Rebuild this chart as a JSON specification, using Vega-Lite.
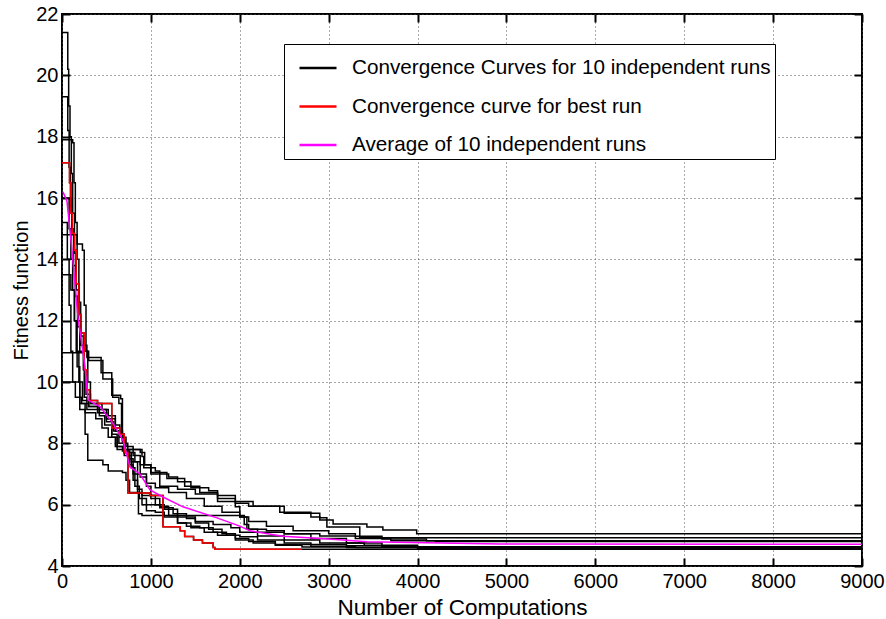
{
  "$schema": "https://vega.github.io/schema/vega-lite/v6.json",
  "width": 800,
  "height": 552,
  "autosize": {"type": "none"},
  "padding": {"left": 62, "top": 14, "right": 24, "bottom": 53},
  "background": "white",
  "config": {
    "view": {"stroke": "black", "strokeWidth": 2},
    "axis": {
      "labelFont": "Liberation Sans", "labelFontSize": 20, "labelColor": "black",
      "titleFont": "Liberation Sans", "titleFontSize": 20, "titleFontWeight": "normal", "titleColor": "black",
      "tickColor": "black", "tickWidth": 2, "tickSize": -8, "domain": false,
      "gridColor": "#555", "gridDash": [1, 3], "gridWidth": 1
    }
  },
  "datasets": {
    "runs": [
      {"run":1,"x":0,"y":21.4},{"run":1,"x":55,"y":21.4},{"run":1,"x":65,"y":20.2},{"run":1,"x":75,"y":19.0},{"run":1,"x":90,"y":18.0},{"run":1,"x":105,"y":16.8},{"run":1,"x":120,"y":15.5},{"run":1,"x":140,"y":14.2},{"run":1,"x":160,"y":13.0},{"run":1,"x":185,"y":12.0},{"run":1,"x":210,"y":11.2},{"run":1,"x":280,"y":10.8},{"run":1,"x":440,"y":10.3},{"run":1,"x":560,"y":9.57},{"run":1,"x":660,"y":9.45},{"run":1,"x":680,"y":8.1},{"run":1,"x":710,"y":7.8},{"run":1,"x":900,"y":7.57},{"run":1,"x":920,"y":7.2},{"run":1,"x":1050,"y":7.1},{"run":1,"x":1100,"y":7.0},{"run":1,"x":1200,"y":6.9},{"run":1,"x":1300,"y":6.75},{"run":1,"x":1450,"y":6.55},{"run":1,"x":1650,"y":6.45},{"run":1,"x":1750,"y":6.3},{"run":1,"x":1950,"y":6.1},{"run":1,"x":2150,"y":5.95},{"run":1,"x":2450,"y":5.75},{"run":1,"x":2800,"y":5.6},{"run":1,"x":2900,"y":5.5},{"run":1,"x":3050,"y":5.37},{"run":1,"x":3430,"y":5.27},{"run":1,"x":3610,"y":5.17},{"run":1,"x":3990,"y":5.05},{"run":1,"x":9000,"y":5.05},
      {"run":2,"x":0,"y":19.3},{"run":2,"x":50,"y":19.3},{"run":2,"x":65,"y":18.2},{"run":2,"x":80,"y":17.0},{"run":2,"x":95,"y":16.0},{"run":2,"x":110,"y":15.0},{"run":2,"x":130,"y":13.8},{"run":2,"x":150,"y":12.8},{"run":2,"x":175,"y":11.8},{"run":2,"x":200,"y":11.0},{"run":2,"x":300,"y":10.7},{"run":2,"x":460,"y":10.1},{"run":2,"x":570,"y":9.5},{"run":2,"x":640,"y":9.3},{"run":2,"x":670,"y":8.3},{"run":2,"x":700,"y":7.8},{"run":2,"x":880,"y":7.7},{"run":2,"x":930,"y":7.3},{"run":2,"x":1000,"y":7.05},{"run":2,"x":1180,"y":6.85},{"run":2,"x":1380,"y":6.6},{"run":2,"x":1550,"y":6.4},{"run":2,"x":1750,"y":6.2},{"run":2,"x":1950,"y":6.05},{"run":2,"x":2100,"y":5.95},{"run":2,"x":2500,"y":5.72},{"run":2,"x":2900,"y":5.57},{"run":2,"x":2980,"y":5.27},{"run":2,"x":3350,"y":4.92},{"run":2,"x":9000,"y":4.88},
      {"run":3,"x":0,"y":17.9},{"run":3,"x":120,"y":17.8},{"run":3,"x":135,"y":16.5},{"run":3,"x":150,"y":15.2},{"run":3,"x":170,"y":14.0},{"run":3,"x":190,"y":12.6},{"run":3,"x":210,"y":11.5},{"run":3,"x":240,"y":10.4},{"run":3,"x":270,"y":9.6},{"run":3,"x":320,"y":9.3},{"run":3,"x":450,"y":9.1},{"run":3,"x":520,"y":8.9},{"run":3,"x":600,"y":8.6},{"run":3,"x":650,"y":8.2},{"run":3,"x":720,"y":7.9},{"run":3,"x":800,"y":7.6},{"run":3,"x":880,"y":7.3},{"run":3,"x":1000,"y":7.0},{"run":3,"x":1100,"y":6.6},{"run":3,"x":1300,"y":6.5},{"run":3,"x":1500,"y":6.35},{"run":3,"x":1750,"y":6.1},{"run":3,"x":1950,"y":5.93},{"run":3,"x":2000,"y":5.6},{"run":3,"x":2080,"y":5.2},{"run":3,"x":2200,"y":5.1},{"run":3,"x":2500,"y":5.05},{"run":3,"x":2900,"y":4.98},{"run":3,"x":3300,"y":4.9},{"run":3,"x":3700,"y":4.82},{"run":3,"x":4200,"y":4.8},{"run":3,"x":9000,"y":4.78},
      {"run":4,"x":0,"y":16.0},{"run":4,"x":60,"y":16.0},{"run":4,"x":80,"y":15.0},{"run":4,"x":100,"y":14.0},{"run":4,"x":120,"y":13.0},{"run":4,"x":140,"y":12.0},{"run":4,"x":160,"y":11.0},{"run":4,"x":190,"y":10.0},{"run":4,"x":230,"y":9.4},{"run":4,"x":300,"y":9.2},{"run":4,"x":420,"y":9.0},{"run":4,"x":500,"y":8.7},{"run":4,"x":580,"y":8.4},{"run":4,"x":640,"y":8.0},{"run":4,"x":700,"y":7.7},{"run":4,"x":780,"y":7.4},{"run":4,"x":850,"y":7.0},{"run":4,"x":950,"y":6.7},{"run":4,"x":1050,"y":6.55},{"run":4,"x":1200,"y":6.4},{"run":4,"x":1400,"y":6.2},{"run":4,"x":1600,"y":5.95},{"run":4,"x":1800,"y":5.75},{"run":4,"x":2000,"y":5.6},{"run":4,"x":2100,"y":5.45},{"run":4,"x":2300,"y":5.3},{"run":4,"x":2600,"y":5.15},{"run":4,"x":3000,"y":5.05},{"run":4,"x":3300,"y":4.97},{"run":4,"x":3600,"y":4.88},{"run":4,"x":4100,"y":4.82},{"run":4,"x":9000,"y":4.8},
      {"run":5,"x":0,"y":14.8},{"run":5,"x":170,"y":14.5},{"run":5,"x":230,"y":14.3},{"run":5,"x":250,"y":12.5},{"run":5,"x":270,"y":11.0},{"run":5,"x":290,"y":10.0},{"run":5,"x":320,"y":9.3},{"run":5,"x":400,"y":9.1},{"run":5,"x":500,"y":8.8},{"run":5,"x":560,"y":8.3},{"run":5,"x":620,"y":7.9},{"run":5,"x":700,"y":7.7},{"run":5,"x":760,"y":7.3},{"run":5,"x":800,"y":6.8},{"run":5,"x":850,"y":6.4},{"run":5,"x":900,"y":6.3},{"run":5,"x":1000,"y":6.2},{"run":5,"x":1100,"y":5.95},{"run":5,"x":1200,"y":5.65},{"run":5,"x":1300,"y":5.4},{"run":5,"x":1400,"y":5.3},{"run":5,"x":1550,"y":5.25},{"run":5,"x":1700,"y":5.1},{"run":5,"x":1850,"y":5.0},{"run":5,"x":2000,"y":4.95},{"run":5,"x":2200,"y":4.85},{"run":5,"x":2500,"y":4.75},{"run":5,"x":2800,"y":4.7},{"run":5,"x":3200,"y":4.66},{"run":5,"x":3600,"y":4.63},{"run":5,"x":9000,"y":4.62},
      {"run":6,"x":0,"y":10.0},{"run":6,"x":170,"y":10.0},{"run":6,"x":200,"y":9.1},{"run":6,"x":260,"y":8.3},{"run":6,"x":290,"y":7.45},{"run":6,"x":420,"y":7.45},{"run":6,"x":460,"y":7.3},{"run":6,"x":520,"y":7.1},{"run":6,"x":680,"y":7.05},{"run":6,"x":720,"y":6.8},{"run":6,"x":760,"y":6.4},{"run":6,"x":860,"y":5.7},{"run":6,"x":900,"y":5.65},{"run":6,"x":1980,"y":5.65},{"run":6,"x":2050,"y":5.35},{"run":6,"x":2100,"y":5.2},{"run":6,"x":2300,"y":5.15},{"run":6,"x":2500,"y":5.05},{"run":6,"x":2800,"y":4.9},{"run":6,"x":3200,"y":4.75},{"run":6,"x":3600,"y":4.65},{"run":6,"x":4000,"y":4.6},{"run":6,"x":9000,"y":4.6},
      {"run":7,"x":0,"y":10.95},{"run":7,"x":236,"y":10.95},{"run":7,"x":250,"y":9.5},{"run":7,"x":280,"y":9.1},{"run":7,"x":400,"y":9.0},{"run":7,"x":500,"y":8.8},{"run":7,"x":600,"y":8.4},{"run":7,"x":680,"y":8.0},{"run":7,"x":740,"y":7.5},{"run":7,"x":800,"y":7.0},{"run":7,"x":850,"y":6.5},{"run":7,"x":900,"y":6.0},{"run":7,"x":950,"y":5.8},{"run":7,"x":1050,"y":5.75},{"run":7,"x":1150,"y":5.6},{"run":7,"x":1300,"y":5.4},{"run":7,"x":1450,"y":5.25},{"run":7,"x":1600,"y":5.1},{"run":7,"x":1750,"y":5.0},{"run":7,"x":1950,"y":4.85},{"run":7,"x":2150,"y":4.75},{"run":7,"x":2400,"y":4.68},{"run":7,"x":2700,"y":4.62},{"run":7,"x":3200,"y":4.6},{"run":7,"x":4000,"y":4.58},{"run":7,"x":9000,"y":4.58},
      {"run":8,"x":0,"y":17.15},{"run":8,"x":70,"y":17.15},{"run":8,"x":85,"y":16.5},{"run":8,"x":100,"y":15.5},{"run":8,"x":115,"y":14.85},{"run":8,"x":140,"y":14.3},{"run":8,"x":160,"y":13.2},{"run":8,"x":190,"y":12.2},{"run":8,"x":215,"y":11.6},{"run":8,"x":250,"y":10.4},{"run":8,"x":280,"y":9.75},{"run":8,"x":310,"y":9.4},{"run":8,"x":400,"y":9.3},{"run":8,"x":560,"y":8.5},{"run":8,"x":650,"y":8.3},{"run":8,"x":700,"y":7.7},{"run":8,"x":742,"y":6.38},{"run":8,"x":990,"y":6.3},{"run":8,"x":1136,"y":5.28},{"run":8,"x":1330,"y":5.15},{"run":8,"x":1380,"y":4.96},{"run":8,"x":1480,"y":4.85},{"run":8,"x":1580,"y":4.75},{"run":8,"x":1700,"y":4.6},{"run":8,"x":1720,"y":4.55},{"run":8,"x":9000,"y":4.55},
      {"run":9,"x":0,"y":13.5},{"run":9,"x":100,"y":13.0},{"run":9,"x":140,"y":12.0},{"run":9,"x":170,"y":10.5},{"run":9,"x":200,"y":9.3},{"run":9,"x":260,"y":9.0},{"run":9,"x":380,"y":8.8},{"run":9,"x":450,"y":8.5},{"run":9,"x":520,"y":8.2},{"run":9,"x":600,"y":7.9},{"run":9,"x":680,"y":7.75},{"run":9,"x":760,"y":7.7},{"run":9,"x":820,"y":7.4},{"run":9,"x":880,"y":6.9},{"run":9,"x":950,"y":6.6},{"run":9,"x":1000,"y":6.3},{"run":9,"x":1050,"y":6.0},{"run":9,"x":1150,"y":5.85},{"run":9,"x":1300,"y":5.6},{"run":9,"x":1500,"y":5.45},{"run":9,"x":1700,"y":5.35},{"run":9,"x":1900,"y":5.25},{"run":9,"x":2000,"y":5.1},{"run":9,"x":2200,"y":4.98},{"run":9,"x":2500,"y":4.85},{"run":9,"x":2900,"y":4.75},{"run":9,"x":3400,"y":4.68},{"run":9,"x":4000,"y":4.63},{"run":9,"x":9000,"y":4.62},
      {"run":10,"x":0,"y":15.2},{"run":10,"x":40,"y":15.2},{"run":10,"x":60,"y":14.0},{"run":10,"x":80,"y":12.5},{"run":10,"x":100,"y":11.0},{"run":10,"x":120,"y":10.0},{"run":10,"x":150,"y":9.5},{"run":10,"x":220,"y":9.3},{"run":10,"x":300,"y":9.2},{"run":10,"x":420,"y":8.9},{"run":10,"x":480,"y":8.6},{"run":10,"x":560,"y":8.2},{"run":10,"x":620,"y":7.8},{"run":10,"x":700,"y":7.6},{"run":10,"x":780,"y":7.2},{"run":10,"x":820,"y":6.6},{"run":10,"x":870,"y":6.2},{"run":10,"x":950,"y":6.0},{"run":10,"x":1100,"y":5.9},{"run":10,"x":1250,"y":5.7},{"run":10,"x":1400,"y":5.55},{"run":10,"x":1500,"y":5.4},{"run":10,"x":1650,"y":5.2},{"run":10,"x":1800,"y":5.05},{"run":10,"x":1950,"y":4.9},{"run":10,"x":2100,"y":4.8},{"run":10,"x":2400,"y":4.7},{"run":10,"x":2800,"y":4.64},{"run":10,"x":3300,"y":4.6},{"run":10,"x":9000,"y":4.59}
    ],
    "best": [
      {"x":0,"y":17.15},{"x":70,"y":17.15},{"x":85,"y":16.5},{"x":100,"y":15.5},{"x":115,"y":14.85},{"x":140,"y":14.3},{"x":160,"y":13.2},{"x":190,"y":12.2},{"x":215,"y":11.6},{"x":250,"y":10.4},{"x":280,"y":9.75},{"x":310,"y":9.4},{"x":400,"y":9.3},{"x":560,"y":8.5},{"x":650,"y":8.3},{"x":700,"y":7.7},{"x":742,"y":6.38},{"x":990,"y":6.3},{"x":1136,"y":5.28},{"x":1330,"y":5.15},{"x":1380,"y":4.96},{"x":1480,"y":4.85},{"x":1580,"y":4.75},{"x":1700,"y":4.6},{"x":1720,"y":4.55},{"x":2700,"y":4.55}
    ],
    "avg": [
      {"x":10,"y":16.2},{"x":56,"y":15.9},{"x":112,"y":14.3},{"x":180,"y":12.1},{"x":259,"y":10.5},{"x":292,"y":9.41},{"x":427,"y":9.2},{"x":574,"y":8.65},{"x":686,"y":8.1},{"x":765,"y":7.23},{"x":877,"y":7.0},{"x":990,"y":6.48},{"x":1136,"y":6.25},{"x":1361,"y":5.93},{"x":1744,"y":5.57},{"x":2000,"y":5.3},{"x":2115,"y":5.15},{"x":2486,"y":4.97},{"x":3000,"y":4.88},{"x":3431,"y":4.79},{"x":4928,"y":4.72},{"x":9000,"y":4.71}
    ]
  },
  "resolve": {"axis": {"x": "independent", "y": "independent"}},
  "layer": [
    {
      "data": {"name": "runs"},
      "mark": {"type": "line", "interpolate": "step-after", "strokeWidth": 1.5, "clip": true},
      "encoding": {
        "x": {"field": "x", "type": "quantitative", "scale": {"domain": [0, 9000], "nice": false},
              "axis": {"values": [0,1000,2000,3000,4000,5000,6000,7000,8000,9000], "format": "d", "title": "Number of Computations", "titleFontSize": 22.5, "grid": true, "labelPadding": 13, "titlePadding": 5, "labelFlush": false}},
        "y": {"field": "y", "type": "quantitative", "scale": {"domain": [4, 22], "nice": false, "zero": false},
              "axis": {"values": [4,6,8,10,12,14,16,18,20,22], "title": "Fitness function", "grid": true, "labelPadding": 12, "titlePadding": 4, "labelFlush": false}},
        "detail": {"field": "run", "type": "nominal"},
        "color": {
          "datum": "Convergence Curves for 10 independent runs",
          "type": "nominal",
          "scale": {
            "domain": ["Convergence Curves for 10 independent runs", "Convergence curve for best run", "Average of 10 independent runs"],
            "range": ["#000000", "#ff0000", "#ff00ff"]
          },
          "legend": {
            "title": null, "orient": "none", "legendX": 222, "legendY": 30, "direction": "vertical",
            "symbolType": "stroke", "symbolStrokeWidth": 2.5, "symbolSize": 1369, "symbolOffset": 10,
            "labelFont": "Liberation Sans", "labelFontSize": 20.7, "labelColor": "black", "labelOffset": 14, "labelLimit": 0,
            "padding": 4, "rowPadding": 8.5, "strokeColor": "black", "fillColor": "white"
          }
        }
      }
    },
    {
      "data": {"name": "best"},
      "mark": {"type": "line", "interpolate": "step-after", "strokeWidth": 1.5, "clip": true},
      "encoding": {
        "x": {"field": "x", "type": "quantitative", "axis": {"orient": "top", "values": [0,1000,2000,3000,4000,5000,6000,7000,8000,9000], "labels": false, "title": null, "grid": false}},
        "y": {"field": "y", "type": "quantitative", "axis": {"orient": "right", "values": [4,6,8,10,12,14,16,18,20,22], "labels": false, "title": null, "grid": false}},
        "color": {"datum": "Convergence curve for best run", "type": "nominal"}
      }
    },
    {
      "data": {"name": "avg"},
      "mark": {"type": "line", "strokeWidth": 1.5, "clip": true},
      "encoding": {
        "x": {"field": "x", "type": "quantitative", "axis": null},
        "y": {"field": "y", "type": "quantitative", "axis": null},
        "color": {"datum": "Average of 10 independent runs", "type": "nominal"}
      }
    }
  ]
}
